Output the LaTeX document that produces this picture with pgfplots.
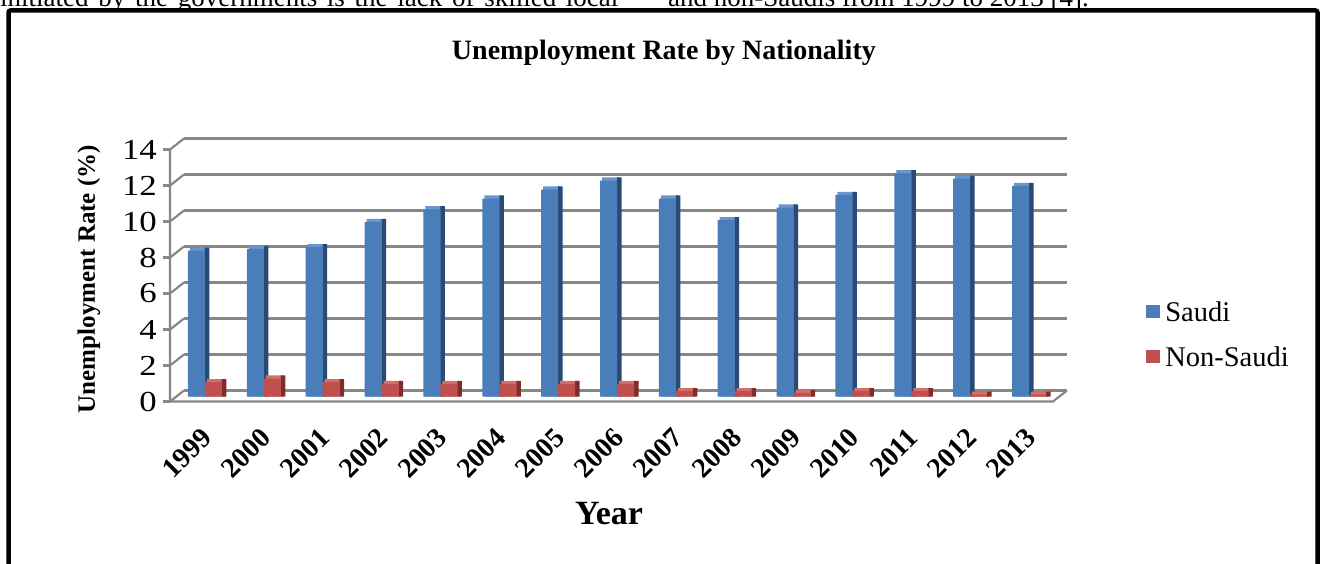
\documentclass[border=0pt]{standalone}
\usepackage{fontspec}
\setmainfont{Liberation Serif}
\usepackage{pgfplots}
\usepackage{pgfplotstable}
\pgfplotsset{compat=1.18}
\definecolor{sblue}{RGB}{74,126,187}
\definecolor{sblueD}{RGB}{40,74,116}
\definecolor{sblueT}{RGB}{105,150,205}
\definecolor{nred}{RGB}{192,80,77}
\definecolor{nredD}{RGB}{128,44,42}
\definecolor{nredT}{RGB}{212,110,106}
\definecolor{gridc}{RGB}{135,135,135}

\pgfplotstableread{
idx year saudi nonsaudi
0  1999 8.1  0.8
1  2000 8.2  1.0
2  2001 8.3  0.8
3  2002 9.7  0.7
4  2003 10.4 0.7
5  2004 11.0 0.7
6  2005 11.5 0.7
7  2006 12.0 0.7
8  2007 11.0 0.3
9  2008 9.8  0.3
10 2009 10.5 0.2
11 2010 11.2 0.3
12 2011 12.4 0.3
13 2012 12.1 0.1
14 2013 11.7 0.1
}\datatable

\begin{document}
\begin{tikzpicture}
\useasboundingbox (0pt,0pt) rectangle (1320pt,563pt);
\clip (0pt,0pt) rectangle (1320pt,563pt);
\node[anchor=base west, inner sep=0pt, font=\fontsize{27}{30}\selectfont] at (0pt,556pt) {\spaceskip=9.7pt\relax initiated by the governments is the lack of skilled local};
\node[anchor=base west, inner sep=0pt, font=\fontsize{27}{30}\selectfont] at (668pt,556pt) {and non-Saudis from 1999 to 2013 [4].};
\draw[line width=4.5pt, rounded corners=2pt] (8.5pt,-20pt) -- (8.5pt,552.5pt) -- (1317.5pt,552.5pt) -- (1317.5pt,-20pt);

\begin{axis}[
  at={(176.5pt,166.5pt)}, anchor=south west,
  scale only axis, width=883pt, height=252pt,
  xmin=-0.5, xmax=14.5, ymin=0, ymax=14,
  axis line style={draw=none}, major tick length=0pt,
  xtick={0,...,14},
  xticklabels={1999,2000,2001,2002,2003,2004,2005,2006,2007,2008,2009,2010,2011,2012,2013},
  ytick={0,2,4,6,8,10,12,14},
  /pgf/number format/assume math mode=true,
  yticklabel={\scalebox{1.2}[1]{\pgfmathprintnumber{\tick}}},
  yticklabel style={anchor=east, inner sep=0pt, xshift=-19.5pt, yshift=-5pt, font=\fontsize{29}{30}\selectfont},
  xticklabel style={xshift=1pt, yshift=-36.5pt, rotate=45, anchor=east, inner sep=0pt, font=\bfseries\fontsize{28}{30}\selectfont},
  title={Unemployment Rate by Nationality},
  title style={at={(axis description cs:0.552,1.314)}, anchor=base, font=\bfseries\fontsize{28}{30}\selectfont},
  xlabel={Year},
  xlabel style={at={(axis description cs:0.4898,-0.506)}, anchor=base, font=\bfseries\fontsize{34}{36}\selectfont},
  ylabel={Unemployment Rate (\%)},
  every axis y label/.style={at={(axis description cs:-0.0991,0.466)}, rotate=90, anchor=center, font=\bfseries\fontsize{25}{28}\selectfont},
  legend style={at={(axis description cs:1.098,0.246)}, anchor=west, draw=none, fill=none,
    font=\fontsize{28.5}{30}\selectfont, row sep=20pt, inner sep=0pt,
    nodes={inner xsep=5pt}},
  legend cell align=left,
  clip=false,
]
\pgfplotsinvokeforeach{0,2,4,6,8,10,12,14}{
  \draw[gridc, line width=2.2pt] ([xshift=7.5pt,yshift=6pt]axis cs:-0.5,#1) -- ([xshift=7.5pt,yshift=6pt]axis cs:14.5,#1);
  \draw[gridc, line width=2.2pt] ([xshift=-6.5pt,yshift=-5pt]axis cs:-0.5,#1) -- ([xshift=7.5pt,yshift=6pt]axis cs:-0.5,#1);
  \draw[gridc, line width=2.2pt] ([xshift=-13.5pt,yshift=-5pt]axis cs:-0.5,#1) -- ([xshift=-6.5pt,yshift=-5pt]axis cs:-0.5,#1);
}
\draw[gridc, line width=2.2pt] ([xshift=-6.5pt,yshift=-5pt]axis cs:-0.5,14) -- ([xshift=-6.5pt,yshift=-5pt]axis cs:-0.5,0)
  -- ([xshift=-6.5pt,yshift=-5pt]axis cs:14.5,0) -- ([xshift=7.5pt,yshift=6pt]axis cs:14.5,0);

% Saudi
\addplot[ybar, bar width=17pt, bar shift=-7.5pt, fill=sblueT, draw=none, forget plot]
  table[x=idx, y expr=\thisrow{saudi}+0.17] {\datatable};
\addplot[ybar, bar width=4.5pt, bar shift=1.25pt, fill=sblueD, draw=none, forget plot]
  table[x=idx, y expr=\thisrow{saudi}+0.17] {\datatable};
\addplot[ybar, bar width=17pt, bar shift=-9.5pt, fill=sblue, draw=none,
  legend image code/.code={\fill[sblue] (0pt,-6pt) rectangle (14pt,7pt);}]
  table[x=idx, y=saudi] {\datatable};
\addlegendentry{Saudi}
% Non-Saudi
\addplot[ybar, bar width=17pt, bar shift=9.5pt, fill=nredT, draw=none, forget plot]
  table[x=idx, y expr=\thisrow{nonsaudi}+0.17] {\datatable};
\addplot[ybar, bar width=4.5pt, bar shift=18.25pt, fill=nredD, draw=none, forget plot]
  table[x=idx, y expr=\thisrow{nonsaudi}+0.17] {\datatable};
\addplot[ybar, bar width=17pt, bar shift=7.5pt, fill=nred, draw=none,
  legend image code/.code={\fill[nred] (0pt,-6pt) rectangle (14pt,7pt);}]
  table[x=idx, y=nonsaudi] {\datatable};
\addlegendentry{Non-Saudi}
\end{axis}
\end{tikzpicture}
\end{document}
